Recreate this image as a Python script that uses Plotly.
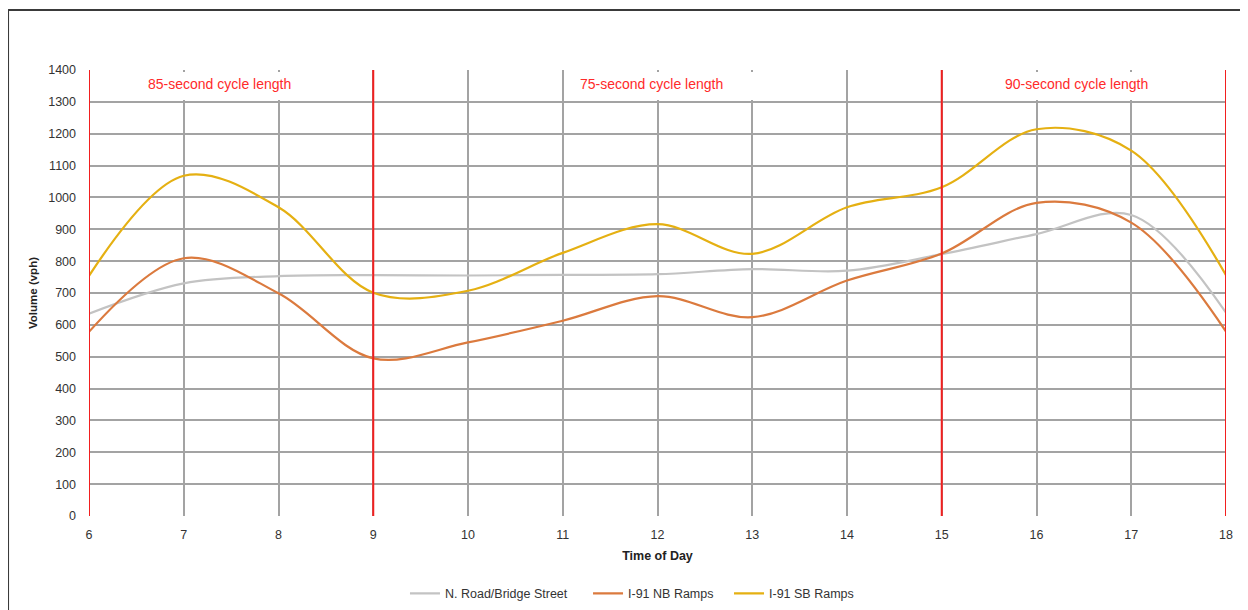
import plotly.graph_objects as go

hours = [6, 7, 8, 9, 10, 11, 12, 13, 14, 15, 16, 17, 18]
n_road_bridge = [635, 730, 753, 756, 755, 757, 759, 775, 770, 822, 885, 945, 638]
i91_nb = [578, 809, 699, 495, 545, 613, 690, 624, 739, 824, 983, 921, 579]
i91_sb = [754, 1068, 969, 701, 707, 826, 916, 823, 969, 1032, 1214, 1147, 756]

series_names = ["N. Road/Bridge Street", "I-91 NB Ramps", "I-91 SB Ramps"]
series_colors = ["#c3c3c3", "#db7a3e", "#e5b012"]
legend_ids = ["legend", "legend2", "legend3"]
legend_x = [0.2779, 0.4389, 0.5629]

cycle_breaks = [6, 9, 15, 18]
cycle_labels = ["85-second cycle length", "75-second cycle length", "90-second cycle length"]
label_x = [7.38, 11.94, 16.42]
label_box_x = [(6.6, 8.6), (11.3, 13.6), (15.3, 17.7)]

y_ticks = list(range(0, 1401, 100))

fig = go.Figure()
for name, vals, col, lg in zip(series_names, [n_road_bridge, i91_nb, i91_sb], series_colors, legend_ids):
    fig.add_trace(go.Scatter(
        x=hours, y=vals, name=name, mode="lines", legend=lg,
        line=dict(color=col, width=2.2, shape="spline", smoothing=1.0),
    ))

shapes = []
for xb in cycle_breaks:
    shapes.append(dict(type="line", xref="x", yref="y", x0=xb, x1=xb, y0=0, y1=1400,
                       line=dict(color="#f21f1f", width=2), layer="above"))
for (a, b) in label_box_x:
    shapes.append(dict(type="rect", xref="x", yref="y", x0=a, x1=b, y0=1306, y1=1394,
                       fillcolor="white", line=dict(width=0), layer="above"))
# outer frame
shapes.append(dict(type="line", xref="paper", yref="paper", x0=-0.0712, x1=-0.0712, y0=-0.3, y1=1.1345,
                   line=dict(color="#3a3a3a", width=2)))
shapes.append(dict(type="line", xref="paper", yref="paper", x0=-0.0712, x1=1.0185, y0=1.1345, y1=1.1345,
                   line=dict(color="#3a3a3a", width=2)))
shapes.append(dict(type="line", xref="paper", yref="paper", x0=1.0167, x1=1.0167, y0=-0.3, y1=1.1345,
                   line=dict(color="#d4d4d4", width=1.5)))

annotations = []
for txt, lx in zip(cycle_labels, label_x):
    annotations.append(dict(x=lx, y=1356, xref="x", yref="y", text=txt, showarrow=False,
                            font=dict(family="Liberation Sans, Arial, sans-serif", size=14, color="#ff2a2a")))

legend_common = dict(orientation="h", xanchor="left", xref="paper",
                     y=0.027, yanchor="middle", yref="container",
                     font=dict(size=12.5, color="#333333"), itemwidth=30)

layout_legends = {}
for lg, lx in zip(legend_ids, legend_x):
    layout_legends[lg] = dict(legend_common, x=lx)

fig.update_layout(
    width=1240, height=602,
    margin=dict(l=81, r=22, t=62, b=94, autoexpand=False),
    paper_bgcolor="white", plot_bgcolor="white",
    font=dict(family="Liberation Sans, Arial, sans-serif", size=12, color="#333333"),
    shapes=shapes, annotations=annotations,
    showlegend=True,
    xaxis=dict(range=[6, 18], tickmode="array", tickvals=hours, ticktext=[str(h) for h in hours],
               showgrid=True, gridcolor="#a3a3a3", gridwidth=1.6, zeroline=False,
               showline=False, ticks="", ticklabelstandoff=9, automargin=False,
               tickfont=dict(size=12.5, color="#333333"),
               title=dict(text="<b>Time of Day</b>", font=dict(size=12.5, color="#222222"), standoff=10)),
    yaxis=dict(range=[0, 1400], tickmode="array", tickvals=y_ticks,
               showgrid=True, gridcolor="#a3a3a3", gridwidth=1.6, zeroline=False,
               showline=False, ticks="", ticklabelstandoff=12, automargin=False,
               tickfont=dict(size=12.5, color="#333333"),
               title=dict(text="<b>Volume (vph)</b>", font=dict(size=11.5, color="#222222"), standoff=8)),
    **layout_legends,
)

fig.write_html("out.html")
